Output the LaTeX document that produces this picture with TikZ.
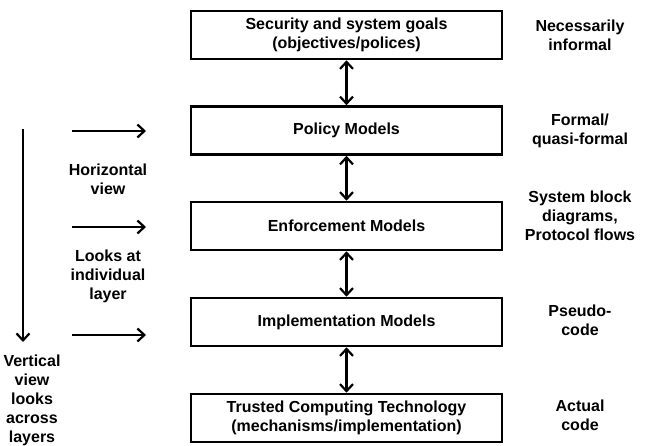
\documentclass[tikz,border=0pt]{standalone}
\usepackage{fontspec}
\setmainfont{Liberation Sans}
\usetikzlibrary{arrows.meta}

\begin{document}
\begin{tikzpicture}[x=1pt,y=-1pt]
\tikzstyle{every node}+=[font=\fontsize{16}{19}\selectfont\bfseries, align=center]
\tikzstyle{layer}=[draw=black, line width=2.6pt, minimum width=311pt, minimum height=48pt, inner sep=0pt]
\tikzstyle{tip}=[-{Straight Barb[length=7pt,width=13pt,line width=2.2pt]}, line width=2.4pt]
\tikzstyle{both}=[{Straight Barb[length=7pt,width=13pt,line width=2.2pt]}-{Straight Barb[length=7pt,width=13pt,line width=2.2pt]}, line width=2.4pt]
\useasboundingbox (0,0) rectangle (666,446);

% layers
\node [layer] (goals) at (346.5,35) {Security and system goals\\(objectives/polices)};
\node [layer] (policy) at (346.5,130.5) {Policy Models};
\node [layer] (enforce) at (346.5,226) {Enforcement Models};
\node [layer] (impl) at (346.5,322) {Implementation Models};
\node [layer] (tct) at (346.5,418) {Trusted Computing Technology\\(mechanisms/implementation)};

\draw [both] (goals) -- (policy);
\draw [both] (policy) -- (enforce);
\draw [both] (enforce) -- (impl);
\draw [both] (impl) -- (tct);

% right side
\node (inf) at (580,35) {Necessarily\\informal};
\node (frm) at (580,130.5) {Formal/\\quasi-formal};
\node (blk) at (580,216) {System block\\diagrams,\\Protocol flows};
\node (pse) at (580,320) {Pseudo-\\code};
\node (act) at (580,415) {Actual\\code};

% left side
\coordinate (h1) at (72,131); \coordinate (h1e) at (146,131);
\coordinate (h2) at (72,227); \coordinate (h2e) at (146,227);
\coordinate (h3) at (72,335); \coordinate (h3e) at (146,335);
\draw [tip] (h1) -- (h1e);
\draw [tip] (h2) -- (h2e);
\draw [tip] (h3) -- (h3e);
\node (hor) at (108,179) {Horizontal\\view};
\node (lks) at (108,276) {Looks at\\individual\\layer};

\coordinate (v) at (23,129); \coordinate (ve) at (23,342);
\draw [tip] (v) -- (ve);
\node (vert) at (32,400) {Vertical\\view\\looks\\across\\layers};
\end{tikzpicture}
\end{document}
